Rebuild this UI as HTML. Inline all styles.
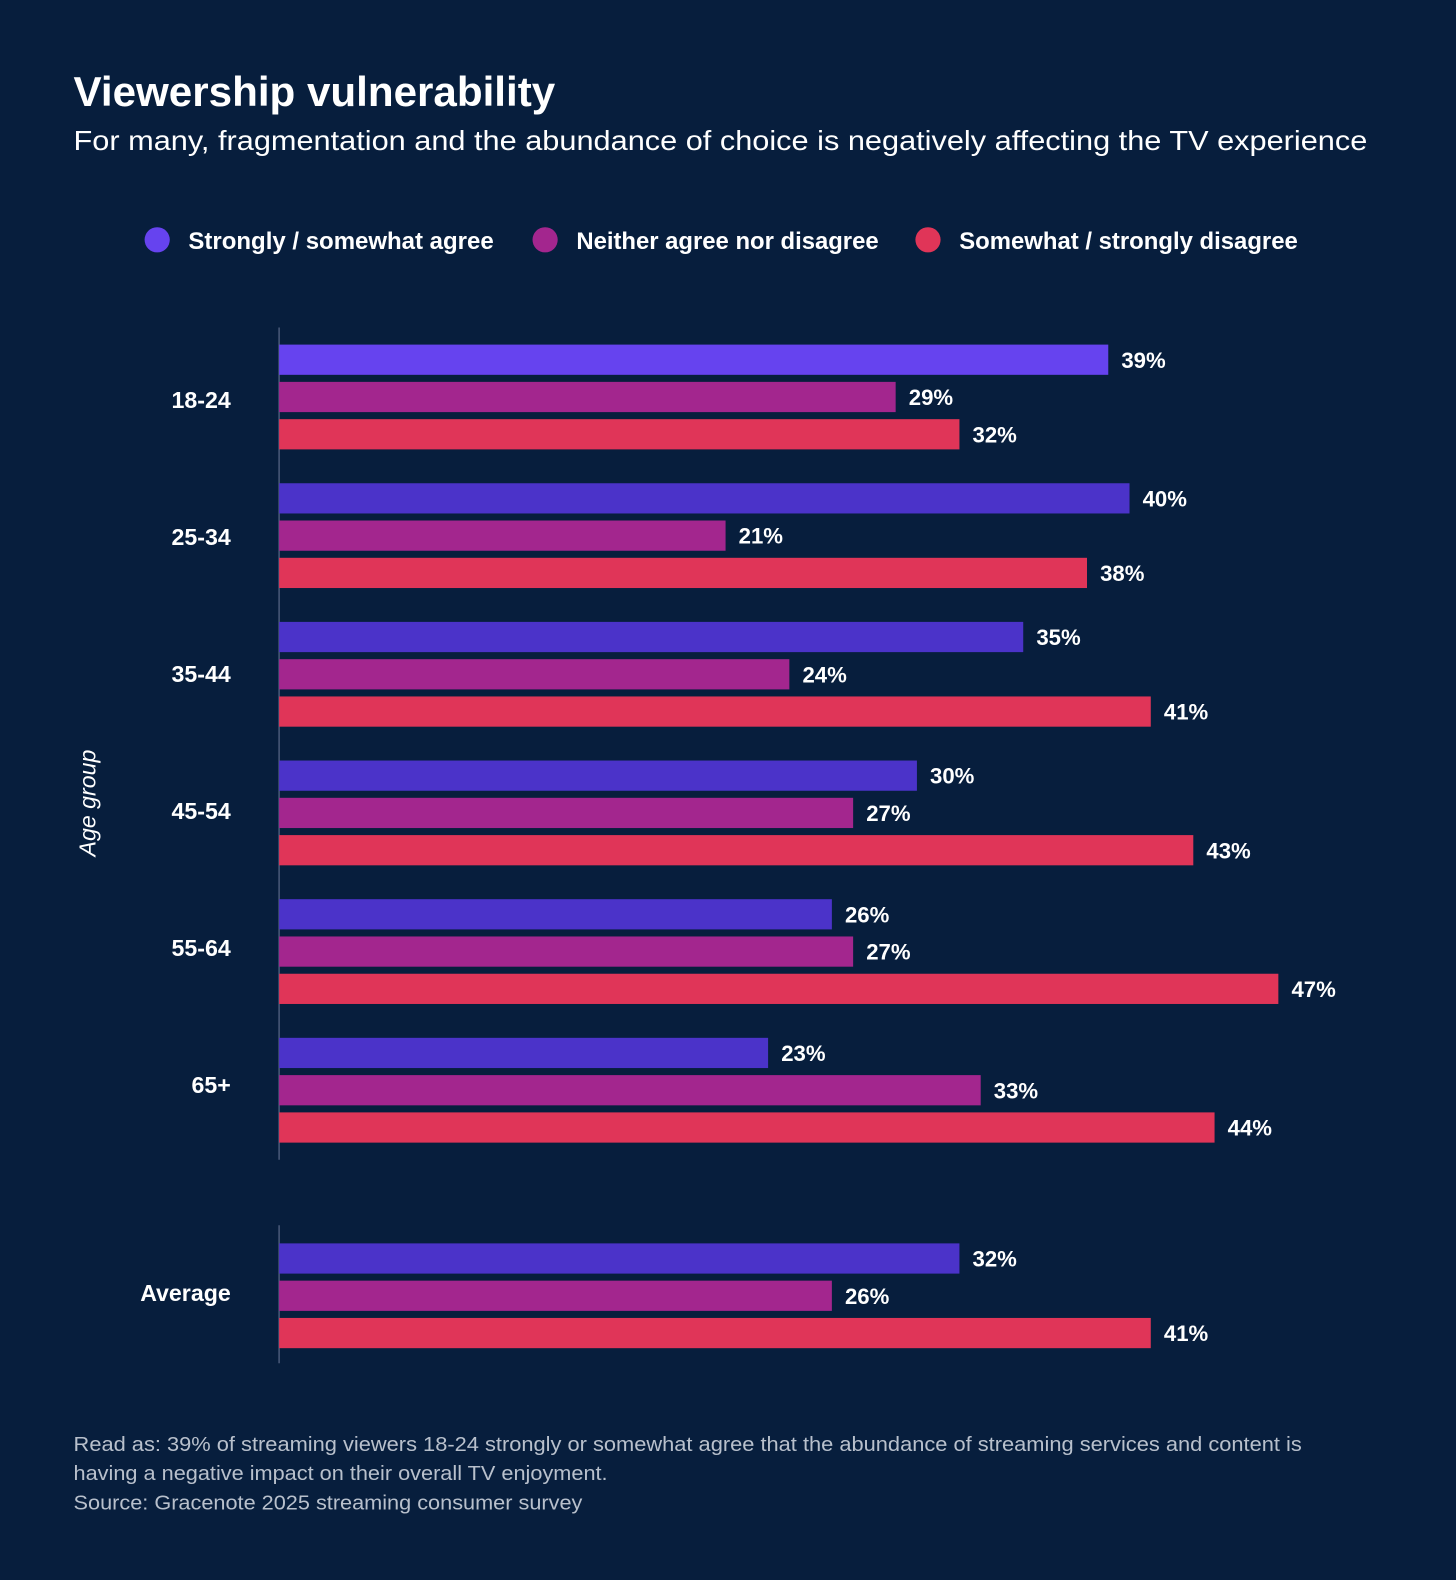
<!DOCTYPE html>
<html><head><meta charset="utf-8"><style>
body{margin:0;background:#071e3d;}
svg{display:block;font-family:"Liberation Sans",sans-serif;}
</style></head><body>
<svg width="1456" height="1580" viewBox="0 0 1456 1580">
<rect width="1456" height="1580" fill="#071e3d"/>
<g transform="scale(1.0076)">
<text x="73" y="105" fill="#fff" font-size="41" font-weight="bold" textLength="478" lengthAdjust="spacingAndGlyphs">Viewership vulnerability</text>
<text x="73" y="149" fill="#fff" font-size="28" textLength="1284" lengthAdjust="spacingAndGlyphs">For many, fragmentation and the abundance of choice is negatively affecting the TV experience</text>
<g id="legend"></g>
<g id="plot"></g>
<text transform="translate(95,797) rotate(-90)" text-anchor="middle" fill="#fff" font-size="23" font-style="italic">Age group</text>
<text x="73" y="1440" fill="#b8c0cc" font-size="20" textLength="1219" lengthAdjust="spacingAndGlyphs">Read as: 39% of streaming viewers 18-24 strongly or somewhat agree that the abundance of streaming services and content is</text>
<text x="73" y="1469" fill="#b8c0cc" font-size="20" textLength="530" lengthAdjust="spacingAndGlyphs">having a negative impact on their overall TV enjoyment.</text>
<text x="73" y="1498" fill="#b8c0cc" font-size="20" textLength="505" lengthAdjust="spacingAndGlyphs">Source: Gracenote 2025 streaming consumer survey</text>
</g>
</svg>
<script>
const categories = ["18-24","25-34","35-44","45-54","55-64","65+","Average"];
const agree = [39,40,35,30,26,23,32];
const neither = [29,21,24,27,27,33,26];
const disagree = [32,38,41,43,47,44,41];
const seriesNames = ["Strongly / somewhat agree","Neither agree nor disagree","Somewhat / strongly disagree"];

const NS="http://www.w3.org/2000/svg";
const x0=277, pxPer=21.1;
const xs=v=>x0+v*pxPer;
const groupTop=i=> i<6 ? 342+i*137.6 : 1234;
const colors=["#4b33c9","#a3268e","#e03558"];
const plot=document.getElementById('plot');
function mk(tag,attrs,parent){const e=document.createElementNS(NS,tag);for(const k in attrs)e.setAttribute(k,attrs[k]);parent.appendChild(e);return e;}
let a1=mk('line',{x1:x0,y1:325,x2:x0,y2:1151,stroke:"#4a5a78","stroke-width":1.5},plot);


let a2=mk('line',{x1:x0,y1:1216,x2:x0,y2:1353,stroke:"#4a5a78","stroke-width":1.5},plot);


const series=[agree,neither,disagree];
categories.forEach((c,i)=>{
  const top=groupTop(i);
  const ly = i<6 ? top+63-1.6*i : top+57;
  const lab=mk('text',{x:229,y:ly,"text-anchor":"end",fill:"#fff","font-size":23,"font-weight":"600"},plot);
  lab.textContent=c;
  
  
  series.forEach((s,j)=>{
    const y=top+j*37;
    let col=colors[j];
    if(i===0&&j===0) col="#6643ef";
    const r=mk('rect',{x:x0,y:y,width:xs(s[i])-x0,height:30,fill:col},plot);
    
    
    const t=mk('text',{x:xs(s[i])+13,y:y+23,fill:"#fff","font-size":22,"font-weight":"600"},plot);
    t.textContent=s[i]+"%";
    
    
  });
});
const lg=document.getElementById('legend');
const lx=[156,541,921];
const lw=[303,300,336];
const legColors=["#6643ef","#a3268e","#e03558"];
seriesNames.forEach((n,j)=>{
  const c=mk('circle',{cx:lx[j],cy:238,r:12.5,fill:legColors[j]},lg);
  
  
  const t=mk('text',{x:lx[j]+31,y:247,fill:"#fff","font-size":24,"font-weight":"600",textLength:lw[j],lengthAdjust:"spacingAndGlyphs"},lg);
  t.textContent=n;
  
  
});
</script>
</body></html>
